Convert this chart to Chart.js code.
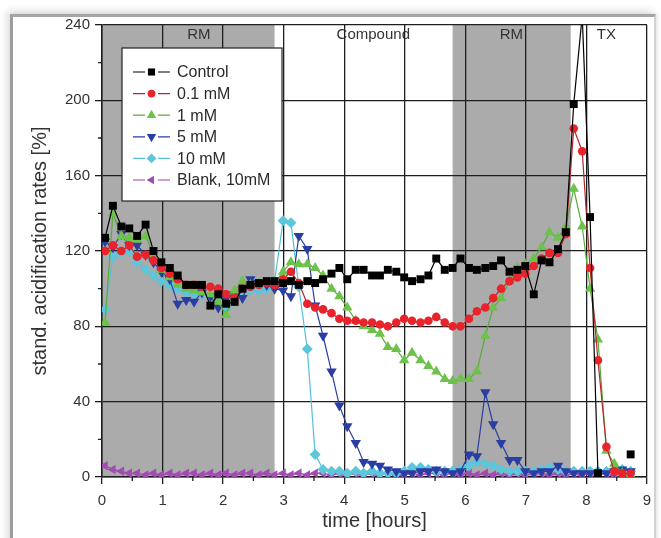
<!DOCTYPE html>
<html><head><meta charset="utf-8">
<script src="https://cdn.jsdelivr.net/npm/chart.js@4.4.0/dist/chart.umd.min.js"></script>
<style>
html,body{margin:0;padding:0;background:#fff;}
#wrap{position:relative;width:661px;height:538px;overflow:hidden;background:#fff;}
#c{position:absolute;left:0;top:0;}
#frame{position:absolute;left:10px;top:14px;width:641px;height:540px;border-left:3px solid #9d9d9d;border-top:3px solid #a5a5a5;border-right:2px solid #d2d2d2;box-shadow:-3px -3px 8px rgba(0,0,0,0.14),2px 0 4px rgba(0,0,0,0.07);pointer-events:none;}
</style></head>
<body><div id="wrap"><canvas id="c" width="661" height="538"></canvas><div id="frame"></div></div>
<script>
// ---- data ----
const times = [0.05,0.18,0.32,0.45,0.58,0.72,0.85,0.98,1.12,1.25,1.39,1.52,1.65,1.79,1.92,2.05,2.19,2.32,2.45,2.59,
  2.72,2.85,2.99,3.12,3.25,3.39,3.52,3.65,3.79,3.92,4.05,4.19,4.32,4.46,4.59,4.72,4.86,4.99,5.12,5.26,
  5.39,5.52,5.66,5.79,5.92,6.06,6.19,6.33,6.46,6.59,6.73,6.86,6.99,7.13,7.26,7.39,7.53,7.66,7.79,7.93,
  8.06,8.19,8.33,8.46,8.59,8.73];
const controlVals = [127,144,133,132,128,134,120,114,111,107,102,102,102,91,97,92,93,100,102,103,
  104,104,103,104,102,104,103,105,108,111,105,110,110,107,107,110,109,106,104,105,
  107,116,110,111,116,111,110,111,112,115,109,110,112,97,115,114,121,130,198,245,
  138,2,null,null,null,12];
const mM01Vals = [120,123,120,123,117,118,115,111,108,105,102,102,101,101,100,97,95,100,101,102,
  103,102,105,109,103,92,90,89,87,84,83,83,82,82,81,80,82,84,83,82,
  83,85,82,80,80,84,88,90,95,100,104,106,108,112,116,119,119,129,185,173,
  111,62,16,3,2,2];
const mM1Vals = [82,140,128,127,126,128,118,110,106,102,100,99,98,97,93,86,99,104,102,103,
  103,103,109,114,113,113,111,107,100,96,90,83,80,78,76,69,68,62,66,62,
  59,56,52,51,52,52,56,75,90,95,104,111,113,116,122,130,127,133,153,133,
  100,73,14,7,2,1];
const mM5Vals = [125,122,129,123,123,118,114,109,105,92,94,93,98,96,90,95,97,95,105,103,
  102,100,99,96,128,121,91,75,56,38,27,18,8,7,6,4,3,2,2,3,
  3,4,3,2,3,12,11,45,28,18,9,9,3,2,3,3,6,3,2,2,
  2,2,2,3,4,3];
const mM10Vals = [89,117,119,120,114,110,107,104,102,100,98,97,97,96,95,90,97,98,99,99,
  100,104,136,135,101,68,12,4,3,3,2,3,2,3,2,2,2,3,5,5,
  4,3,3,3,4,6,8,7,6,4,3,3,3,3,4,5,4,3,3,3,
  3,3,3,4,4,3];
const blankVals = [6,4,3,2,2,1,2,1,2,1,2,2,1,2,1,2,1,2,2,1,
  2,1,2,1,2,1,2,2,1,2,1,2,1,2,1,2,1,1,2,1,
  2,2,1,2,1,2,1,2,1,2,1,2,1,2,2,1,2,1,2,1,
  2,1,2,1,2,1];
const seriesNames = ['Control','0.1 mM','1 mM','5 mM','10 mM','Blank, 10mM'];
const rmPeriods = [[0, 2.85], [5.79, 7.74]];
const phaseLabels = ['RM','Compound','RM','TX'];
const phaseLabelTimes = [1.6, 4.48, 6.76, 8.33];
const xTicksMinor = [0.5,1.5,2.5,3.5,4.5,5.5,6.5,7.5,8.5];
const yTicksMinor = [20,60,100,140,180,220];

const FONT = "'Liberation Sans', Arial, Helvetica, sans-serif";
const styles = [
  {fill:'#000000', line:'#000000', shape:'rect', r:5.6, rot:0},
  {fill:'#e8232b', line:'#b3282c', shape:'circle', r:4.3, rot:0},
  {fill:'#6cc24a', line:'#58ac3a', shape:'triangle', r:6, rot:0},
  {fill:'#2a3da3', line:'#2a3da3', shape:'triangle', r:6, rot:180},
  {fill:'#5cc6db', line:'#55c0d6', shape:'rectRot', r:5.5, rot:0},
  {fill:'#a24bb3', line:'#9a44a8', shape:'triangle', r:5.5, rot:-90}
];
const allVals = [controlVals, mM01Vals, mM1Vals, mM5Vals, mM10Vals, blankVals];

function drawMarker(ctx, st, x, y){
  ctx.save();
  ctx.translate(x, y);
  ctx.rotate(st.rot * Math.PI / 180);
  ctx.fillStyle = st.fill;
  ctx.beginPath();
  const r = st.r * 0.9;
  if (st.shape === 'rect') { const s = r / Math.SQRT2; ctx.rect(-s, -s, 2*s, 2*s); }
  else if (st.shape === 'circle') { ctx.arc(0, 0, r, 0, 2*Math.PI); }
  else if (st.shape === 'triangle') {
    let a = 0;
    for (let i = 0; i < 3; i++) { const px = Math.sin(a)*r, py = -Math.cos(a)*r; if (i===0) ctx.moveTo(px,py); else ctx.lineTo(px,py); a += 2*Math.PI/3; }
    ctx.closePath();
  }
  else if (st.shape === 'rectRot') { ctx.moveTo(0,-r); ctx.lineTo(r,0); ctx.lineTo(0,r); ctx.lineTo(-r,0); ctx.closePath(); }
  ctx.fill();
  ctx.restore();
}

const decor = {
  id: 'decor',
  beforeDraw(chart){
    const {ctx, chartArea: a, scales: {x}} = chart;
    ctx.save();
    ctx.fillStyle = '#ababab';
    rmPeriods.forEach(([s, e]) => {
      const x0 = x.getPixelForValue(s), x1 = x.getPixelForValue(e);
      ctx.fillRect(x0, a.top, x1 - x0, a.bottom - a.top);
    });
    ctx.restore();
  },
  afterDraw(chart){
    const {ctx, chartArea: a, scales: {x, y}} = chart;
    ctx.save();
    ctx.strokeStyle = '#1e1e1e'; ctx.lineWidth = 1.3;
    ctx.beginPath();
    xTicksMinor.forEach(v => { const px = x.getPixelForValue(v); ctx.moveTo(px, a.bottom); ctx.lineTo(px, a.bottom + 4); });
    yTicksMinor.forEach(v => { const py = y.getPixelForValue(v); ctx.moveTo(a.left, py); ctx.lineTo(a.left - 4, py); });
    ctx.stroke();
    ctx.fillStyle = '#333'; ctx.font = '15px ' + FONT; ctx.textAlign = 'center'; ctx.textBaseline = 'middle';
    phaseLabels.forEach((t, i) => ctx.fillText(t, x.getPixelForValue(phaseLabelTimes[i]), a.top + 10));
    const lx = 122, ly = 48, lw = 160, lh = 153;
    ctx.fillStyle = '#ffffff'; ctx.fillRect(lx, ly, lw, lh);
    ctx.strokeStyle = '#222'; ctx.lineWidth = 1.2; ctx.strokeRect(lx, ly, lw, lh);
    ctx.font = '16px ' + FONT; ctx.textAlign = 'left'; ctx.textBaseline = 'middle';
    seriesNames.forEach((name, i) => {
      const st = styles[i];
      const yy = 72 + i * 21.6;
      ctx.strokeStyle = st.line; ctx.lineWidth = 1.2;
      ctx.beginPath(); ctx.moveTo(133, yy); ctx.lineTo(145, yy); ctx.moveTo(158, yy); ctx.lineTo(170, yy); ctx.stroke();
      drawMarker(ctx, st, 151.5, yy);
      ctx.fillStyle = '#2a2a2a';
      ctx.fillText(name, 177, yy + 1);
    });
    ctx.restore();
  }
};

const datasets = seriesNames.map((name, i) => {
  const st = styles[i];
  return {
    label: name,
    data: times.map((t, k) => ({x: t, y: allVals[i][k]})),
    borderColor: st.line,
    backgroundColor: st.fill,
    pointBackgroundColor: st.fill,
    pointBorderColor: st.fill,
    pointBorderWidth: 0,
    pointStyle: st.shape,
    pointRadius: st.r,
    pointRotation: st.rot,
    borderWidth: 1.2,
    tension: 0,
    spanGaps: false
  };
});

new Chart(document.getElementById('c'), {
  type: 'line',
  data: { datasets },
  plugins: [decor],
  options: {
    responsive: false,
    animation: false,
    layout: { padding: { top: 25, right: 14, left: 0, bottom: 0 } },
    plugins: { legend: { display: false }, tooltip: { enabled: false } },
    scales: {
      x: {
        type: 'linear', min: 0, max: 9,
        afterFit(s){ s.height = 61; },
        ticks: { stepSize: 1, color: '#333', font: { family: FONT, size: 15 }, padding: 8, maxRotation: 0 },
        grid: { color: '#1e1e1e', lineWidth: 1.3, tickLength: 7 },
        border: { display: true, color: '#1e1e1e', width: 1.5 },
        title: { display: true, text: 'time [hours]', color: '#333', font: { family: FONT, size: 20 }, padding: { top: 0, bottom: 5 } }
      },
      y: {
        type: 'linear', min: 0, max: 240,
        afterFit(s){ s.width = 102; },
        ticks: { stepSize: 40, color: '#333', font: { family: FONT, size: 15 }, padding: 5 },
        grid: { color: '#1e1e1e', lineWidth: 1.3, tickLength: 7 },
        border: { display: true, color: '#1e1e1e', width: 1.5 },
        title: { display: true, text: 'stand. acidification rates [%]', color: '#333', font: { family: FONT, size: 20 }, padding: { top: 28, bottom: 0 } }
      }
    }
  }
});
</script>
</body></html>
